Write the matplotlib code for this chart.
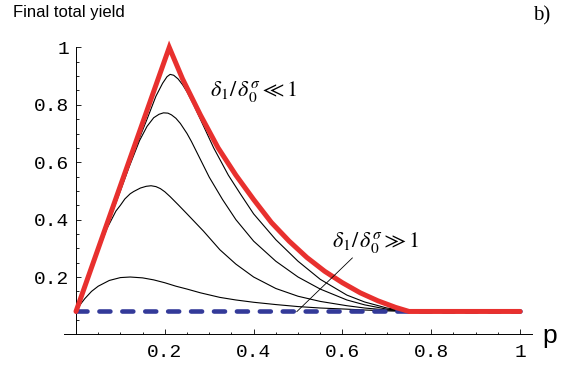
import matplotlib
matplotlib.use('Agg')
import matplotlib.pyplot as plt
from matplotlib.ticker import FixedLocator

# envelope (thick red)
red_p = [0, 0.21, 0.24, 0.28, 0.32, 0.36, 0.40, 0.44, 0.48, 0.52, 0.56, 0.60, 0.64, 0.68, 0.72, 0.75, 1.0]
red_y = [0.08, 1.0, 0.89, 0.765, 0.65, 0.555, 0.47, 0.39, 0.325, 0.268, 0.22, 0.18, 0.145, 0.117, 0.094, 0.08, 0.08]

# black curves, from highest to lowest peak
c1_p = [0, 0.05, 0.10, 0.13, 0.16, 0.18, 0.195, 0.205, 0.212, 0.22, 0.23, 0.24, 0.25, 0.265, 0.28, 0.31,
        0.343, 0.37, 0.40, 0.45, 0.50, 0.55, 0.61, 0.65, 0.70, 0.75, 1.0]
c1_y = [0.08, 0.298, 0.51, 0.635, 0.75, 0.83, 0.875, 0.898, 0.906, 0.903, 0.89, 0.87, 0.845, 0.80, 0.75, 0.65,
        0.555, 0.49, 0.42, 0.33, 0.255, 0.192, 0.137, 0.113, 0.092, 0.081, 0.08]

c2_p = [0, 0.05, 0.10, 0.12, 0.143, 0.16, 0.175, 0.187, 0.197, 0.207, 0.215, 0.225, 0.235, 0.25, 0.26, 0.28,
        0.30, 0.33, 0.36, 0.40, 0.45, 0.50, 0.55, 0.61, 0.65, 0.70, 0.75, 1.0]
c2_y = [0.08, 0.295, 0.50, 0.585, 0.675, 0.725, 0.755, 0.767, 0.772, 0.771, 0.765, 0.753, 0.735, 0.70, 0.672, 0.61,
        0.548, 0.47, 0.40, 0.325, 0.255, 0.2, 0.158, 0.12, 0.103, 0.088, 0.081, 0.08]

c3_p = [0, 0.03, 0.045, 0.06, 0.07, 0.08, 0.09, 0.10, 0.11, 0.122, 0.13, 0.145, 0.158, 0.169, 0.18, 0.19, 0.20,
        0.212, 0.23, 0.25, 0.287, 0.324, 0.36, 0.40, 0.45, 0.50, 0.55, 0.61, 0.65, 0.70, 0.75, 1.0]
c3_y = [0.08, 0.21, 0.275, 0.33, 0.37, 0.40, 0.43, 0.45, 0.472, 0.49, 0.498, 0.51, 0.516, 0.518, 0.515, 0.508, 0.497,
        0.48, 0.452, 0.42, 0.36, 0.295, 0.245, 0.2, 0.16, 0.133, 0.115, 0.10, 0.092, 0.085, 0.081, 0.08]

c4_p = [0, 0.01, 0.02, 0.035, 0.05, 0.075, 0.10, 0.122, 0.15, 0.175, 0.20, 0.225, 0.25, 0.28, 0.324, 0.36, 0.40,
        0.45, 0.50, 0.55, 0.61, 0.65, 0.70, 0.75, 1.0]
c4_y = [0.08, 0.105, 0.125, 0.15, 0.168, 0.188, 0.198, 0.2, 0.197, 0.19, 0.18, 0.168, 0.158, 0.145, 0.129, 0.12, 0.112,
        0.104, 0.097, 0.092, 0.088, 0.085, 0.082, 0.08, 0.08]

# lower limit (dashed blue)
base_p = [0, 1.0]
base_y = [0.08, 0.08]

ticks = [0.2, 0.4, 0.6, 0.8, 1.0]
tick_labels = ['0.2', '0.4', '0.6', '0.8', '1']

plt.rcParams['mathtext.fontset'] = 'stix'

fig = plt.figure(figsize=(5.66, 3.66), dpi=100)
ax = fig.add_axes([0.1131, 0.0863, 0.8269, 0.8077])

for pp, yy in [(c1_p, c1_y), (c2_p, c2_y), (c3_p, c3_y), (c4_p, c4_y)]:
    ax.plot(pp, yy, color='black', lw=0.8, zorder=2)

bl, = ax.plot(base_p, base_y, color='#333a99', lw=3.3, zorder=3,
              dash_capstyle='round', clip_on=False)
bl.set_dashes((2.4, 2.6))
ax.plot(red_p, red_y, color='#e8302e', lw=3.6, zorder=4,
        solid_capstyle='round', solid_joinstyle='miter', clip_on=False)

ax.set_xlim(-0.027, 1.027)
ax.set_ylim(0, 1.03)

for s in ['top', 'right']:
    ax.spines[s].set_visible(False)
ax.spines['left'].set_position(('data', 0))
ax.spines['left'].set_bounds(0, 1)
ax.spines['left'].set_linewidth(0.7)
ax.spines['bottom'].set_linewidth(0.7)

minor = [i * 0.05 for i in range(1, 21) if i % 4]
ax.xaxis.set_major_locator(FixedLocator(ticks))
ax.yaxis.set_major_locator(FixedLocator(ticks))
ax.set_xticklabels(tick_labels)
ax.set_yticklabels(tick_labels)
ax.xaxis.set_minor_locator(FixedLocator(minor))
ax.yaxis.set_minor_locator(FixedLocator(minor))
ax.tick_params(which='major', direction='in', length=3.3, width=0.6, pad=7,
               labelsize=14)
ax.tick_params(which='minor', direction='in', length=1.8, width=0.6)
ax.tick_params(axis='y', pad=5)
for lab in ax.get_xticklabels() + ax.get_yticklabels():
    lab.set_family('Liberation Mono')

fig.text(0.023, 0.985, 'Final total yield', family='Liberation Sans',
         fontsize=12, va='top', ha='left')
fig.text(0.941, 0.982, 'b)', family='Liberation Serif', fontsize=15,
         va='top', ha='left')
fig.text(0.958, 0.05, 'p', family='Liberation Sans', fontsize=19,
         va='bottom', ha='left')

ax.text(0.302, 0.846, r'$\delta_1/\,\delta_0^{\sigma}\ll 1$', fontsize=16,
        ha='left', va='center')
ax.annotate(r'$\delta_1/\,\delta_0^{\sigma}\gg 1$', xy=(0.497, 0.079),
            xytext=(0.576, 0.32), fontsize=16, ha='left', va='center',
            arrowprops=dict(arrowstyle='-', lw=0.6, color='black',
                            shrinkA=0, shrinkB=0, relpos=(0.27, 0.0)),
            zorder=5)

fig.savefig('out.png', dpi=100)
